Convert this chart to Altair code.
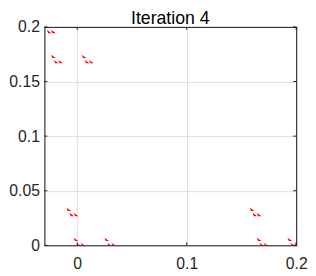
import altair as alt
import pandas as pd

# positions (top-left corner) of the small red fractal pieces
x_vals = [-0.0305, -0.0278, -0.0240, -0.0240, -0.0213, -0.0174, 0.0041, 0.0068, 0.0107,
          -0.0099, -0.0072, -0.0033, -0.0033, -0.0006, 0.0032, 0.0248, 0.0275, 0.0313,
          0.1574, 0.1601, 0.1639, 0.1639, 0.1666, 0.1705, 0.1920, 0.1947, 0.1986]
y_vals = [0.2021, 0.1973, 0.1973, 0.1746, 0.1698, 0.1698, 0.1746, 0.1698, 0.1698,
          0.0345, 0.0297, 0.0297, 0.0070, 0.0023, 0.0023, 0.0070, 0.0023, 0.0023,
          0.0345, 0.0297, 0.0297, 0.0070, 0.0023, 0.0023, 0.0070, 0.0023, 0.0023]
x_ticks = [0, 0.1, 0.2]
y_ticks = [0, 0.05, 0.1, 0.15, 0.2]
title_text = "Iteration 4"

df = pd.DataFrame({"x": x_vals, "y": y_vals})
xt = pd.DataFrame({"x": x_ticks})
yt = pd.DataFrame({"y": y_ticks})
tdf = pd.DataFrame({"t": [title_text]})

W, H = 256, 222
FONT = "Liberation Sans"
x_scale = alt.Scale(domain=[-0.03, 0.2], nice=False, zero=False)
y_scale = alt.Scale(domain=[0, 0.2], nice=False, zero=False)
x_axis = alt.Axis(values=x_ticks, format="~g", title=None, grid=True, ticks=False,
                  domain=False, labelFontSize=16, labelPadding=11, tickSize=0,
                  labelFlush=False, labelOverlap=False,
                  gridColor="#dedede", labelColor="#262626", labelFont=FONT)
y_axis = alt.Axis(values=y_ticks, format="~g", title=None, grid=True, ticks=False,
                  domain=False, labelFontSize=16, labelPadding=5, tickSize=0,
                  labelFlush=False, labelOverlap=False,
                  gridColor="#dedede", labelColor="#262626", labelFont=FONT)

shape_path = "M0,0 L1.4,3.5 L4.9,3.5 Z"

pts = alt.Chart(df).mark_point(
    shape=shape_path, size=4, filled=True, fill="#ff0000", strokeWidth=0,
    opacity=1, clip=True
).encode(
    x=alt.X("x:Q", scale=x_scale, axis=x_axis),
    y=alt.Y("y:Q", scale=y_scale, axis=y_axis),
)

tick_color = "#262626"
xb = alt.Chart(xt).mark_rule(color=tick_color, strokeWidth=1).encode(
    x=alt.X("x:Q", scale=x_scale, axis=x_axis), y=alt.value(H), y2=alt.value(H - 3))
xtop = alt.Chart(xt).mark_rule(color=tick_color, strokeWidth=1).encode(
    x=alt.X("x:Q", scale=x_scale, axis=x_axis), y=alt.value(0), y2=alt.value(3))
yl = alt.Chart(yt).mark_rule(color=tick_color, strokeWidth=1).encode(
    y=alt.Y("y:Q", scale=y_scale, axis=y_axis), x=alt.value(0), x2=alt.value(3))
yr = alt.Chart(yt).mark_rule(color=tick_color, strokeWidth=1).encode(
    y=alt.Y("y:Q", scale=y_scale, axis=y_axis), x=alt.value(W), x2=alt.value(W - 3))

box_color = "#1a1a1a"
bl = alt.Chart(tdf).mark_rule(color=box_color, strokeWidth=1).encode(
    x=alt.value(0.5), y=alt.value(0), y2=alt.value(H + 0.5))
br = alt.Chart(tdf).mark_rule(color=box_color, strokeWidth=1).encode(
    x=alt.value(W + 0.5), y=alt.value(0), y2=alt.value(H + 0.5))
bt = alt.Chart(tdf).mark_rule(color=box_color, strokeWidth=1).encode(
    x=alt.value(0), x2=alt.value(W + 1), y=alt.value(0.5))
bb = alt.Chart(tdf).mark_rule(color=box_color, strokeWidth=1).encode(
    x=alt.value(0), x2=alt.value(W + 1), y=alt.value(H + 0.5))

title = alt.Chart(tdf).mark_text(
    font=FONT, fontSize=18, color="black", align="center", baseline="alphabetic"
).encode(text="t:N", x=alt.value(W / 2), y=alt.value(-3))

chart = alt.layer(xb, xtop, yl, yr, pts, bl, br, bt, bb, title).properties(
    width=W, height=H,
    autosize=alt.AutoSizeParams(type="none"),
    padding={"left": 37, "top": 17, "right": 12, "bottom": 29},
).configure_view(strokeWidth=0).configure(background="white")

chart.save("out.html", embed_options={"renderer": "svg", "actions": False})
